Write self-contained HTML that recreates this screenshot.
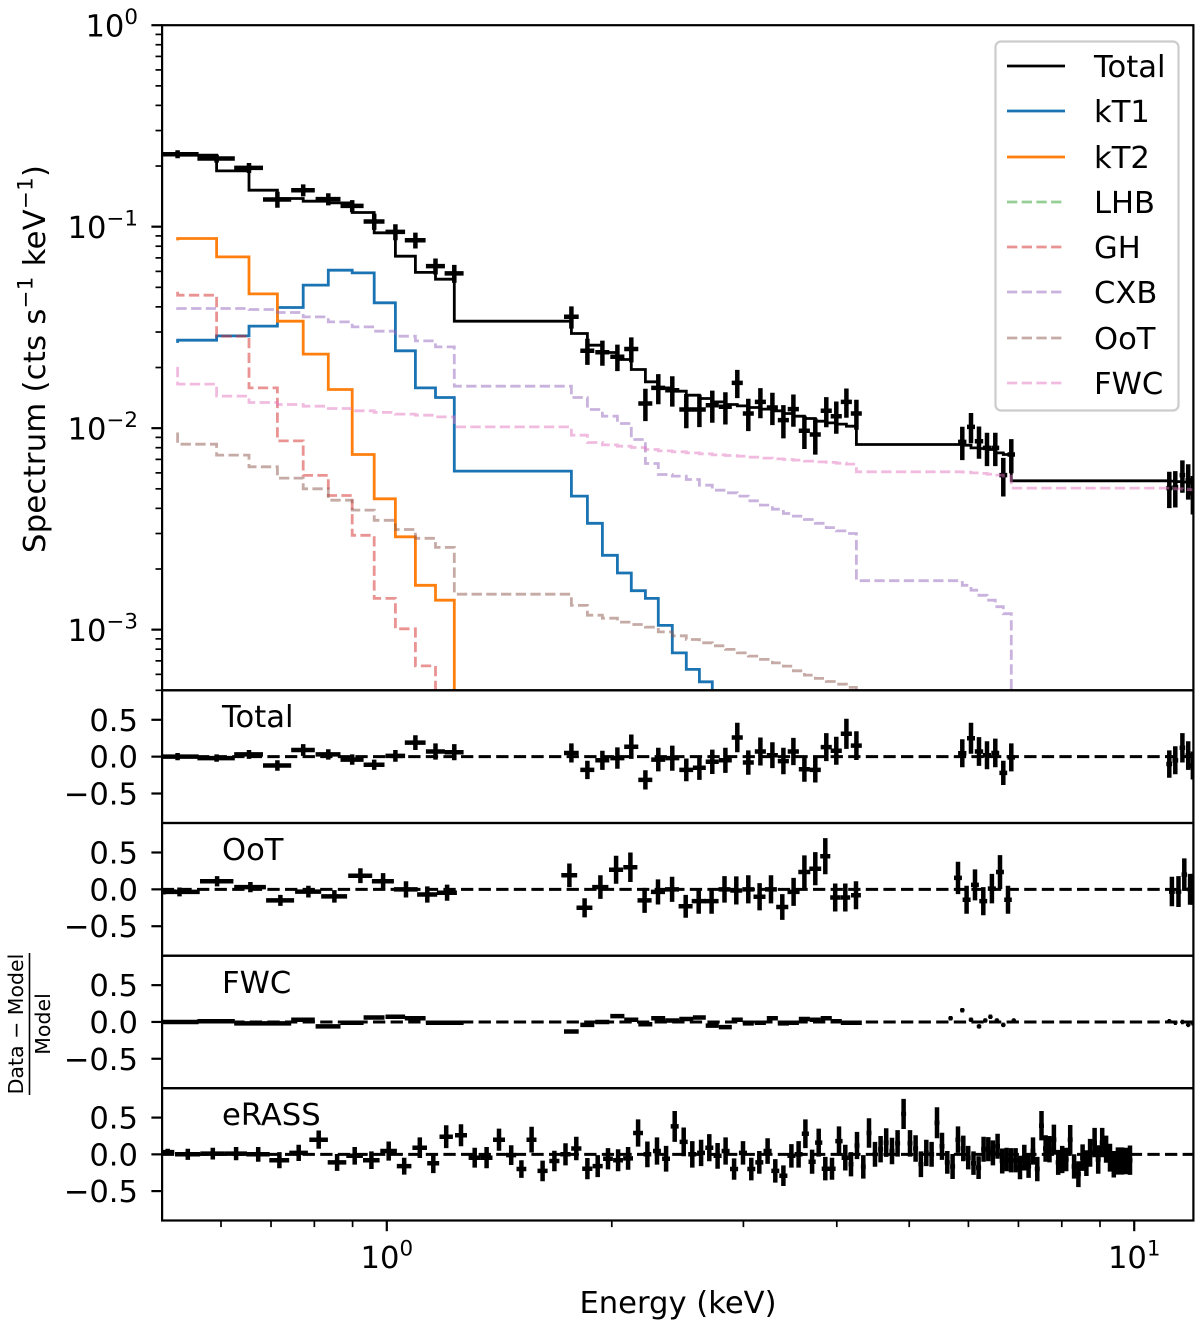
<!DOCTYPE html>
<html lang="en">
<head>
<meta charset="utf-8">
<title>X-ray spectrum with residual panels</title>
<style>
html,body{margin:0;padding:0;background:#fff}
svg{display:block}
text{font-family:"DejaVu Sans","Liberation Sans",sans-serif;fill:#000}
</style>
</head>
<body>
<svg id="chart" xmlns="http://www.w3.org/2000/svg" width="1200" height="1326" viewBox="0 0 1200 1326">
  <rect x="0" y="0" width="1200" height="1326" fill="#fff"/>
  <defs>
    <clipPath id="clip-spectrum"><rect x="162" y="25" width="1031.5" height="665"/></clipPath>
    <clipPath id="clip-total"><rect x="162" y="690" width="1031.5" height="133"/></clipPath>
    <clipPath id="clip-oot"><rect x="162" y="823" width="1031.5" height="133"/></clipPath>
    <clipPath id="clip-fwc"><rect x="162" y="956" width="1031.5" height="132"/></clipPath>
    <clipPath id="clip-erass"><rect x="162" y="1088" width="1031.5" height="132"/></clipPath>
  </defs>
  <g id="marks"></g>
  <g id="axes"></g>

  <text x="222" y="727" font-size="30.6">Total</text>
  <text x="222" y="860" font-size="30.6">OoT</text>
  <text x="222" y="993" font-size="30.6">FWC</text>
  <text x="222" y="1125" font-size="30.6">eRASS</text>

  <text x="678" y="1313" font-size="30.6" text-anchor="middle">Energy (keV)</text>
  <text transform="translate(45,359) rotate(-90)" font-size="30.6" text-anchor="middle" textLength="388" lengthAdjust="spacing">Spectrum (cts s<tspan font-size="21.4" dy="-12.5">−1</tspan><tspan dy="12.5"> keV</tspan><tspan font-size="21.4" dy="-12.5">−1</tspan><tspan dy="12.5">)</tspan></text>
  <g>
    <text transform="translate(23,1024) rotate(-90)" font-size="20.5" text-anchor="middle">Data − Model</text>
    <line x1="29.5" y1="953" x2="29.5" y2="1095" stroke="#000" stroke-width="1.6"/>
    <text transform="translate(50,1024) rotate(-90)" font-size="20.5" text-anchor="middle">Model</text>
  </g>

  <g>
    <rect x="995.5" y="41.5" width="183" height="369" rx="5.5" ry="5.5" fill="#fff" fill-opacity="0.8" stroke="#ccc" stroke-width="2.2"/>
    <g><line x1="1007" y1="66" x2="1065" y2="66" stroke="#000" stroke-width="2.8"/><text x="1094" y="77" font-size="30.6">Total</text></g>
    <g><line x1="1007" y1="111" x2="1065" y2="111" stroke="#1a73b2" stroke-width="2.8"/><text x="1094" y="122" font-size="30.6">kT1</text></g>
    <g><line x1="1007" y1="157" x2="1065" y2="157" stroke="#ff7f0e" stroke-width="2.8"/><text x="1094" y="168" font-size="30.6">kT2</text></g>
    <g><line x1="1007" y1="202" x2="1065" y2="202" stroke="#2ca02c" stroke-opacity="0.5" stroke-width="2.8" stroke-dasharray="10.3 4.4"/><text x="1094" y="213" font-size="30.6">LHB</text></g>
    <g><line x1="1007" y1="247" x2="1065" y2="247" stroke="#d62728" stroke-opacity="0.5" stroke-width="2.8" stroke-dasharray="10.3 4.4"/><text x="1094" y="258" font-size="30.6">GH</text></g>
    <g><line x1="1007" y1="292" x2="1065" y2="292" stroke="#9467bd" stroke-opacity="0.5" stroke-width="2.8" stroke-dasharray="10.3 4.4"/><text x="1094" y="303" font-size="30.6">CXB</text></g>
    <g><line x1="1007" y1="338" x2="1065" y2="338" stroke="#8c564b" stroke-opacity="0.5" stroke-width="2.8" stroke-dasharray="10.3 4.4"/><text x="1094" y="349" font-size="30.6">OoT</text></g>
    <g><line x1="1007" y1="383" x2="1065" y2="383" stroke="#e377c2" stroke-opacity="0.5" stroke-width="2.8" stroke-dasharray="10.3 4.4"/><text x="1094" y="394" font-size="30.6">FWC</text></g>
  </g>
</svg>

<script>
// ---------- Main spectrum data (keV, cts/s/keV) ----------
const energies = [0.525,0.592,0.654,0.714,0.773,0.835,0.899,0.962,1.027,1.092,1.162,1.231,1.766,1.855,1.943,2.035,2.124,2.218,2.308,2.41,2.516,2.62,2.726,2.838,2.944,3.046,3.161,3.28,3.393,3.499,3.62,3.744,3.873,3.994,4.12,4.249,5.888,6.049,6.2,6.353,6.518,6.681,6.847,11.14,11.35,11.6,11.81,11.98];
const energyErr = [0.035,0.034,0.029,0.031,0.028,0.032,0.032,0.031,0.031,0.035,0.034,0.036,0.04,0.04,0.042,0.044,0.046,0.048,0.05,0.052,0.054,0.052,0.055,0.057,0.05,0.052,0.054,0.056,0.058,0.06,0.062,0.064,0.066,0.068,0.07,0.072,0.075,0.075,0.08,0.08,0.08,0.08,0.08,0.1,0.1,0.1,0.1,0.1];
const spectrumFlux = [0.229,0.218,0.1958,0.1365,0.1517,0.137,0.1268,0.1061,0.0942,0.0857,0.0637,0.0586,0.0357,0.0242,0.0238,0.0226,0.0247,0.01326,0.01585,0.01544,0.01238,0.01238,0.013,0.01276,0.01678,0.01183,0.0135,0.01267,0.01096,0.01243,0.0097,0.0093,0.01219,0.01147,0.0135,0.01183,0.00855,0.01015,0.00862,0.00798,0.00798,0.00585,0.0074,0.00504,0.00508,0.00585,0.00552,0.00476];
const spectrumFluxErr = [0.0105,0.0099,0.0112,0.0124,0.0104,0.0094,0.0087,0.0097,0.0086,0.0078,0.0058,0.006,0.0045,0.0036,0.0034,0.0034,0.0035,0.00242,0.00271,0.00264,0.0024,0.00226,0.00237,0.00233,0.00268,0.00216,0.00231,0.00231,0.00206,0.00227,0.00182,0.00191,0.00208,0.00209,0.00223,0.00202,0.00161,0.00174,0.00157,0.0015,0.0015,0.00127,0.00143,0.00103,0.00104,0.00107,0.0011,0.00103];

const modelTotal = [0.2263,0.2263,0.1892,0.1517,0.138,0.1338,0.1312,0.1176,0.0932,0.0714,0.0593,0.0549,0.03396,0.0295,0.0258,0.02375,0.02193,0.01956,0.01698,0.01585,0.01526,0.01458,0.01404,0.0135,0.01311,0.0129,0.01267,0.01243,0.01219,0.01183,0.01147,0.01117,0.01083,0.01062,0.01047,0.01023,0.0083,0.00823,0.00798,0.00793,0.00784,0.00754,0.0074,0.00548,0.00546,0.00543,0.0054,0.00535];
const modelKT1 = [0.0265,0.02733,0.0287,0.0321,0.0397,0.0513,0.0608,0.059,0.0419,0.0242,0.01585,0.0142,0.00612,0.0046,0.00337,0.00234,0.00191,0.00156,0.00143,0.00105,0.000767,0.000635,0.000551,0.00043,0.00036,0.0003];
const modelKT2 = [0.0855,0.0874,0.0708,0.0464,0.03396,0.0233,0.01556,0.0074,0.00446,0.00289,0.00166,0.0014,0.0003];
const modelGH = [0.0475,0.0457,0.0286,0.01585,0.00865,0.00583,0.00463,0.00294,0.00143,0.00101,0.000661,0.00035,0.0002];
const modelCXB = [0.0398,0.03926,0.03926,0.03882,0.0375,0.03567,0.03369,0.03181,0.03029,0.02862,0.02712,0.02532,0.01616,0.0142,0.01238,0.01147,0.01055,0.00879,0.00668,0.00589,0.00578,0.00556,0.00521,0.00492,0.00478,0.0046,0.00436,0.00415,0.00396,0.00377,0.00366,0.00352,0.00337,0.00321,0.00309,0.003,0.00175,0.00166,0.00157,0.00148,0.0014,0.0013,0.0012,0.0003];
const modelOoT = [0.00952,0.00833,0.00735,0.00643,0.00565,0.005,0.00439,0.00392,0.00349,0.00314,0.00284,0.00256,0.0015,0.00132,0.00118,0.00114,0.00109,0.00106,0.00103,0.000975,0.000932,0.000894,0.00086,0.000831,0.000798,0.000767,0.000739,0.000712,0.000684,0.000659,0.000625,0.000595,0.000573,0.000553,0.000536,0.000517,0.0003];
const modelFWC = [0.02015,0.01654,0.01442,0.01341,0.01311,0.01286,0.01252,0.01219,0.01197,0.01174,0.0116,0.01138,0.01015,0.00923,0.00849,0.00826,0.00814,0.00802,0.00784,0.00771,0.00763,0.00754,0.00746,0.00737,0.00732,0.00726,0.00718,0.0071,0.00704,0.00699,0.00694,0.00686,0.0068,0.00676,0.0067,0.00663,0.00607,0.00605,0.006,0.00596,0.00591,0.00585,0.00578,0.00504,0.00502,0.005,0.00498,0.00495];

// ---------- Residuals: Total instrument (same energies as main spectrum) ----------
const totalResidual = [0,-0.02,0.03,-0.12,0.09,0.03,-0.04,-0.11,0.01,0.19,0.07,0.06,0.05,-0.18,-0.05,-0.02,0.135,-0.315,-0.04,-0.02,-0.18,-0.15,-0.07,-0.05,0.26,-0.08,0.07,0.02,-0.06,0.07,-0.17,-0.18,0.13,0.08,0.31,0.15,0.045,0.25,0.07,0.02,0.05,-0.22,-0.01,-0.1,-0.05,0.12,0.015,-0.12];
const totalResidualErr = [0.05,0.05,0.06,0.07,0.08,0.07,0.07,0.07,0.08,0.1,0.11,0.11,0.13,0.125,0.13,0.145,0.165,0.13,0.16,0.17,0.155,0.165,0.165,0.17,0.2,0.165,0.19,0.175,0.18,0.185,0.17,0.17,0.19,0.19,0.205,0.195,0.19,0.21,0.195,0.19,0.195,0.165,0.19,0.185,0.19,0.2,0.195,0.19];

// ---------- Residuals: OoT ----------
const ootEnergies = [0.5027,0.528,0.5929,0.657,0.7205,0.7855,0.851,0.922,0.9887,1.061,1.133,1.204,1.755,1.839,1.931,2.027,2.118,2.213,2.306,2.408,2.511,2.614,2.72,2.83,2.935,3.046,3.153,3.266,3.382,3.502,3.62,3.744,3.861,3.981,4.106,4.244,5.81,5.967,6.123,6.281,6.45,6.613,6.779,11.23,11.46,11.67,11.88,11.97];
const ootEnergyErr = [0.02,0.034,0.0305,0.032,0.031,0.0315,0.034,0.034,0.0335,0.039,0.035,0.037,0.043,0.045,0.048,0.044,0.046,0.048,0.05,0.052,0.054,0.056,0.059,0.052,0.054,0.056,0.058,0.06,0.063,0.065,0.067,0.069,0.06,0.061,0.063,0.065,0.071,0.073,0.075,0.077,0.08,0.08,0.08,0.1,0.1,0.1,0.1,0.1];
const ootResidual = [-0.03,-0.035,0.11,0.03,-0.15,-0.03,-0.095,0.185,0.11,0,-0.07,-0.045,0.19,-0.25,0.03,0.265,0.3,-0.15,-0.035,0,-0.23,-0.16,-0.16,0,-0.015,0,-0.1,0,-0.24,-0.035,0.235,0.28,0.45,-0.11,-0.11,-0.08,0.155,-0.14,0.06,-0.16,0.01,0.235,-0.14,-0.03,-0.03,0.2,0,0];
const ootResidualErr = [0.04,0.06,0.07,0.07,0.075,0.08,0.085,0.1,0.11,0.11,0.11,0.11,0.16,0.13,0.16,0.19,0.2,0.17,0.17,0.17,0.155,0.17,0.17,0.18,0.19,0.19,0.185,0.19,0.175,0.19,0.225,0.225,0.245,0.19,0.19,0.19,0.22,0.19,0.21,0.19,0.2,0.23,0.19,0.2,0.21,0.22,0.21,0.21];

// ---------- Residuals: FWC ----------
const fwcEnergies = [0.525,0.592,0.654,0.714,0.773,0.835,0.899,0.962,1.027,1.092,1.162,1.231,1.766,1.855,1.943,2.035,2.124,2.218,2.308,2.41,2.516,2.62,2.726,2.838,2.944,3.046,3.161,3.28,3.393,3.499,3.62,3.744,3.873,3.994,4.12,4.249,5.68,5.888,6.049,6.2,6.32,6.42,6.55,6.681,6.9,11.14,11.35,11.6,11.81,11.98];
const fwcEnergyErr = [0.035,0.034,0.029,0.031,0.028,0.032,0.032,0.031,0.031,0.035,0.034,0.036,0.04,0.04,0.042,0.044,0.046,0.048,0.05,0.052,0.054,0.052,0.055,0.057,0.05,0.052,0.054,0.056,0.058,0.06,0.062,0.064,0.066,0.068,0.07,0.072,0.03,0.03,0.03,0.03,0.03,0.03,0.03,0.03,0.03,0.05,0.05,0.05,0.05,0.05];
const fwcResidual = [0,0.01,-0.02,-0.02,0.03,-0.06,-0.01,0.06,0.07,0.05,-0.01,-0.01,-0.13,-0.04,0,0.08,0.03,-0.03,0.05,0.02,0.04,0.06,-0.05,-0.07,0.03,-0.02,-0.01,0.05,-0.02,-0.01,0.04,0.03,0.05,0.01,-0.01,-0.01,0.05,0.16,0.03,-0.06,0.02,0.07,0.02,-0.04,0.02,0.01,-0.01,0,-0.04,-0.02];
const fwcResidualErr = [0.01,0.01,0.01,0.01,0.01,0.01,0.01,0.01,0.01,0.01,0.01,0.01,0.012,0.012,0.012,0.012,0.012,0.012,0.012,0.012,0.012,0.012,0.012,0.012,0.012,0.012,0.012,0.012,0.012,0.012,0.012,0.012,0.012,0.012,0.012,0.012,0.018,0.018,0.018,0.018,0.018,0.018,0.018,0.018,0.018,0.015,0.015,0.015,0.015,0.015];

// ---------- Residuals: eRASS ----------
const erassEnergies = [0.5092,0.5417,0.5851,0.6287,0.6729,0.7183,0.7624,0.8108,0.8581,0.9059,0.9537,1.006,1.055,1.107,1.154,1.201,1.257,1.311,1.36,1.413,1.467,1.514,1.562,1.616,1.676,1.734,1.793,1.855,1.915,1.977,2.039,2.103,2.169,2.232,2.299,2.364,2.428,2.496,2.563,2.633,2.701,2.771,2.84,2.915,2.996,3.074,3.151,3.232,3.31,3.393,3.478,3.556,3.631,3.707,3.783,3.861,3.941,4.027,4.106,4.179,4.257,4.341,4.417,4.5,4.578,4.658,4.741,4.824,4.914,5.012,5.099,5.183,5.27,5.357,5.447,5.531,5.622,5.715,5.81,5.906,5.997,6.095,6.191,6.287,6.379,6.471,6.564,6.659,6.749,6.841,6.94,7.034,7.128,7.222,7.32,7.419,7.516,7.61,7.703,7.808,7.912,8.01,8.11,8.21,8.31,8.42,8.53,8.63,8.73,8.85,8.95,9.06,9.17,9.28,9.39,9.51,9.63,9.75,9.87];
const erassEnergyErr = [0.0105,0.0209,0.0222,0.0213,0.0242,0.0221,0.0219,0.0232,0.0246,0.0232,0.0244,0.0257,0.0237,0.0249,0.0213,0.0248,0.0232,0.0242,0.0251,0.0261,0.023,0.023,0.024,0.025,0.026,0.027,0.028,0.029,0.03,0.03,0.031,0.032,0.033,0.027,0.028,0.029,0.03,0.031,0.032,0.032,0.033,0.034,0.035,0.036,0.037,0.038,0.039,0.04,0.041,0.042,0.043,0.044,0.04,0.041,0.042,0.043,0.044,0.045,0.046,0.032,0.033,0.033,0.034,0.035,0.035,0.036,0.037,0.037,0.038,0.039,0.039,0.04,0.041,0.041,0.042,0.043,0.043,0.044,0.045,0.045,0.046,0.047,0.048,0.048,0.049,0.05,0.05,0.051,0.052,0.053,0.053,0.054,0.055,0.056,0.056,0.057,0.058,0.059,0.059,0.06,0.061,0.062,0.062,0.063,0.064,0.065,0.066,0.066,0.067,0.068,0.069,0.07,0.07,0.071,0.072,0.073,0.074,0.075,0.076];
const erassResidual = [0.03,0,0.01,0.01,0,-0.08,0.02,0.2,-0.11,-0.02,-0.08,0.045,-0.16,0.09,-0.12,0.24,0.26,-0.045,-0.045,0.2,-0.01,-0.2,0.2,-0.225,-0.09,0,0.08,-0.195,-0.16,-0.06,-0.08,-0.055,0.29,0,0.045,-0.06,0.38,0.17,0,0.02,0.09,-0.02,0.045,-0.2,0.02,-0.2,-0.11,0.045,-0.225,-0.29,-0.02,0,0.28,-0.1,0.16,-0.195,-0.195,0.18,-0.045,-0.135,0.12,-0.17,0.29,0,0.07,0.16,0.045,0.15,0.55,0.15,0.08,-0.135,0.02,0,0.43,0.11,-0.11,-0.165,0.2,0.08,-0.045,-0.12,-0.18,0.07,0.07,0.02,0.11,-0.09,-0.07,-0.08,-0.08,-0.18,-0.045,-0.16,0.045,-0.2,0.39,0.08,0.07,0.2,-0.11,-0.07,-0.07,0.2,-0.165,-0.27,-0.045,-0.12,0.02,0.16,-0.07,0.16,0.07,-0.045,-0.135,-0.09,-0.09,-0.09,-0.08];
const erassResidualErr = [0.045,0.075,0.08,0.09,0.1,0.11,0.11,0.125,0.115,0.12,0.12,0.13,0.115,0.14,0.135,0.155,0.15,0.135,0.145,0.15,0.135,0.12,0.175,0.14,0.14,0.15,0.16,0.145,0.15,0.145,0.15,0.155,0.185,0.175,0.185,0.175,0.21,0.195,0.18,0.18,0.185,0.175,0.185,0.145,0.16,0.155,0.155,0.175,0.16,0.14,0.16,0.18,0.195,0.165,0.19,0.16,0.15,0.2,0.175,0.165,0.185,0.16,0.2,0.17,0.18,0.195,0.18,0.18,0.205,0.18,0.18,0.175,0.18,0.17,0.21,0.185,0.155,0.17,0.18,0.175,0.16,0.16,0.155,0.17,0.165,0.17,0.17,0.17,0.16,0.165,0.165,0.16,0.175,0.16,0.185,0.165,0.2,0.18,0.18,0.205,0.17,0.185,0.16,0.2,0.165,0.175,0.18,0.175,0.19,0.2,0.195,0.2,0.185,0.19,0.18,0.185,0.185,0.18,0.2];

// ---------- Axis tick definitions ----------
const yMajorExponents = [0,-1,-2,-3];
const yMajorLabels = ['0','−1','−2','−3'];
const yMinorValues = [0.9,0.8,0.7,0.6,0.5,0.4,0.3,0.2,0.09,0.08,0.07,0.06,0.05,0.04,0.03,0.02,0.009,0.008,0.007,0.006,0.005,0.004,0.003,0.002,0.0009,0.0008,0.0007,0.0006,0.0005];
const xMajorValues = [1,10];
const xMajorLabels = ['0','1'];
const xMinorValues = [0.6,0.7,0.8,0.9,2,3,4,5,6,7,8,9];
const residualTicks = [0.5,0,-0.5];
const residualTickLabels = ['0.5','0.0','−0.5'];

// ---------- Axis scales ----------
const xDomain = [0.5,12];
const xRange = [161.8,1193.4];
function xScale(e){
  const t=(Math.log10(e)-Math.log10(xDomain[0]))/(Math.log10(xDomain[1])-Math.log10(xDomain[0]));
  return xRange[0]+t*(xRange[1]-xRange[0]);
}
const fluxDomain = [0.0005,1];
const fluxRange = [690.3,25.2];
function fluxScale(v){
  const t=(Math.log10(v)-Math.log10(fluxDomain[0]))/(Math.log10(fluxDomain[1])-Math.log10(fluxDomain[0]));
  return fluxRange[0]+t*(fluxRange[1]-fluxRange[0]);
}
const residualDomain = [-0.9,0.9];
function residualScale(panel){
  return function(v){
    return panel.bottom-(v-residualDomain[0])/(residualDomain[1]-residualDomain[0])*(panel.bottom-panel.top);
  };
}

const NS='http://www.w3.org/2000/svg';
const marks=document.getElementById('marks');
const axes=document.getElementById('axes');
function mk(tag,attrs,parent){
  const el=document.createElementNS(NS,tag);
  for(const k in attrs){el.setAttribute(k,attrs[k]);}
  parent.appendChild(el);
  return el;
}

function drawErrorBars(parent,xs,xerrs,ys,yerrs,yScale,name){
  xs.forEach(function(e,i){
    const left=xScale(Math.max(e-xerrs[i],0.01));
    const right=xScale(e+xerrs[i]);
    const cx=xScale(e);
    const cy=yScale(ys[i]);
    const top=yScale(ys[i]+yerrs[i]);
    const bottom=yScale(Math.max(ys[i]-yerrs[i],name==='spectrum-data-point'?1e-6:-10));
    const d='M'+left.toFixed(1)+' '+cy.toFixed(1)+'H'+right.toFixed(1)+'M'+cx.toFixed(1)+' '+top.toFixed(1)+'V'+bottom.toFixed(1);
    const p=mk('path',{d:d,fill:'none',stroke:'#000','stroke-width':4.5},parent);
    
    
  });
}

function stepPath(values){
  let d='M'+xScale(energies[0]).toFixed(1)+' '+fluxScale(values[0]).toFixed(1);
  for(let i=1;i<values.length;i++){
    const y=fluxScale(values[i]).toFixed(1);
    d+='L'+xScale(energies[i-1]).toFixed(1)+' '+y+'L'+xScale(energies[i]).toFixed(1)+' '+y;
  }
  return d;
}

// ---------- Main spectrum panel ----------
const spectrumLayer=mk('g',{'clip-path':'url(#clip-spectrum)'},marks);


drawErrorBars(spectrumLayer,energies,energyErr,spectrumFlux,spectrumFluxErr,fluxScale,'spectrum-data-point');

const lineTotal=mk('path',{d:stepPath(modelTotal),fill:'none',stroke:'#000','stroke-width':2.8},spectrumLayer);


const lineKT1=mk('path',{d:stepPath(modelKT1),fill:'none',stroke:'#1a73b2','stroke-width':2.8},spectrumLayer);


const lineKT2=mk('path',{d:stepPath(modelKT2),fill:'none',stroke:'#ff7f0e','stroke-width':2.8},spectrumLayer);


const lineGH=mk('path',{d:stepPath(modelGH),fill:'none',stroke:'#d62728','stroke-opacity':0.5,'stroke-width':2.8,'stroke-dasharray':'10.3 4.4'},spectrumLayer);


const lineCXB=mk('path',{d:stepPath(modelCXB),fill:'none',stroke:'#9467bd','stroke-opacity':0.5,'stroke-width':2.8,'stroke-dasharray':'10.3 4.4'},spectrumLayer);


const lineOoT=mk('path',{d:stepPath(modelOoT),fill:'none',stroke:'#8c564b','stroke-opacity':0.5,'stroke-width':2.8,'stroke-dasharray':'10.3 4.4'},spectrumLayer);


const lineFWC=mk('path',{d:stepPath(modelFWC),fill:'none',stroke:'#e377c2','stroke-opacity':0.5,'stroke-width':2.8,'stroke-dasharray':'10.3 4.4'},spectrumLayer);



// ---------- Residual panels ----------
const panelTotal={top:690.3,bottom:823,clip:'clip-total',key:'total'};
const panelOoT={top:823,bottom:955.7,clip:'clip-oot',key:'oot'};
const panelFWC={top:955.7,bottom:1088.2,clip:'clip-fwc',key:'fwc'};
const panelERASS={top:1088.2,bottom:1220.5,clip:'clip-erass',key:'erass'};

function drawResidualPanel(panel,xs,xerrs,ys,yerrs){
  const scale=residualScale(panel);
  const layer=mk('g',{'clip-path':'url(#'+panel.clip+')'},marks);
  
  
  drawErrorBars(layer,xs,xerrs,ys,yerrs,scale,panel.key+'-residual-point');
  const zero=mk('line',{x1:xRange[0],x2:xRange[1],y1:scale(0),y2:scale(0),stroke:'#000','stroke-width':3,'stroke-dasharray':'12.3 5.3'},layer);
  
  
}
drawResidualPanel(panelTotal,energies,energyErr,totalResidual,totalResidualErr);
drawResidualPanel(panelOoT,ootEnergies,ootEnergyErr,ootResidual,ootResidualErr);
drawResidualPanel(panelFWC,fwcEnergies,fwcEnergyErr,fwcResidual,fwcResidualErr);
drawResidualPanel(panelERASS,erassEnergies,erassEnergyErr,erassResidual,erassResidualErr);

// ---------- Frames ----------
function drawFrame(top,bottom,key){
  const r=mk('rect',{x:xRange[0]+0.3,y:top,width:xRange[1]-xRange[0]-0.3,height:bottom-top,fill:'none',stroke:'#000','stroke-width':2.2},axes);
  
  
}
drawFrame(fluxRange[1],fluxRange[0],'spectrum');
drawFrame(panelTotal.top,panelTotal.bottom,'total');
drawFrame(panelOoT.top,panelOoT.bottom,'oot');
drawFrame(panelFWC.top,panelFWC.bottom,'fwc');
drawFrame(panelERASS.top,panelERASS.bottom,'erass');

// ---------- Ticks ----------
const axisX=xRange[0]+0.3;
yMajorExponents.forEach(function(exp,i){
  const y=fluxScale(Math.pow(10,exp));
  const t=mk('line',{x1:axisX-10.7,x2:axisX,y1:y,y2:y,stroke:'#000','stroke-width':2.2},axes);
  
  
  const lab=mk('text',{x:138,y:y+11.5,'font-size':30.6,'text-anchor':'end'},axes);
  
  
  lab.appendChild(document.createTextNode('10'));
  const sup=mk('tspan',{'font-size':21.4,dy:-12.5},lab);
  sup.textContent=yMajorLabels[i];
});
yMinorValues.forEach(function(v){
  const y=fluxScale(v);
  const t=mk('line',{x1:axisX-6.6,x2:axisX,y1:y,y2:y,stroke:'#000','stroke-width':1.7},axes);
  
  
});
[panelTotal,panelOoT,panelFWC,panelERASS].forEach(function(panel){
  const scale=residualScale(panel);
  residualTicks.forEach(function(v,i){
    const y=scale(v);
    const t=mk('line',{x1:axisX-10.7,x2:axisX,y1:y,y2:y,stroke:'#000','stroke-width':2.2},axes);
    
    
    const lab=mk('text',{x:138,y:y+11,'font-size':30.6,'text-anchor':'end'},axes);
    
    
    lab.textContent=residualTickLabels[i];
  });
});
xMajorValues.forEach(function(v,i){
  const x=xScale(v);
  const t=mk('line',{x1:x,x2:x,y1:panelERASS.bottom,y2:panelERASS.bottom+10.7,stroke:'#000','stroke-width':2.2},axes);
  
  
  const lab=mk('text',{x:x,y:1268,'font-size':30.6,'text-anchor':'middle'},axes);
  
  
  lab.appendChild(document.createTextNode('10'));
  const sup=mk('tspan',{'font-size':21.4,dy:-12.5},lab);
  sup.textContent=xMajorLabels[i];
});
xMinorValues.forEach(function(v){
  const x=xScale(v);
  const t=mk('line',{x1:x,x2:x,y1:panelERASS.bottom,y2:panelERASS.bottom+6.6,stroke:'#000','stroke-width':1.7},axes);
  
  
});
</script>
</body>
</html>
